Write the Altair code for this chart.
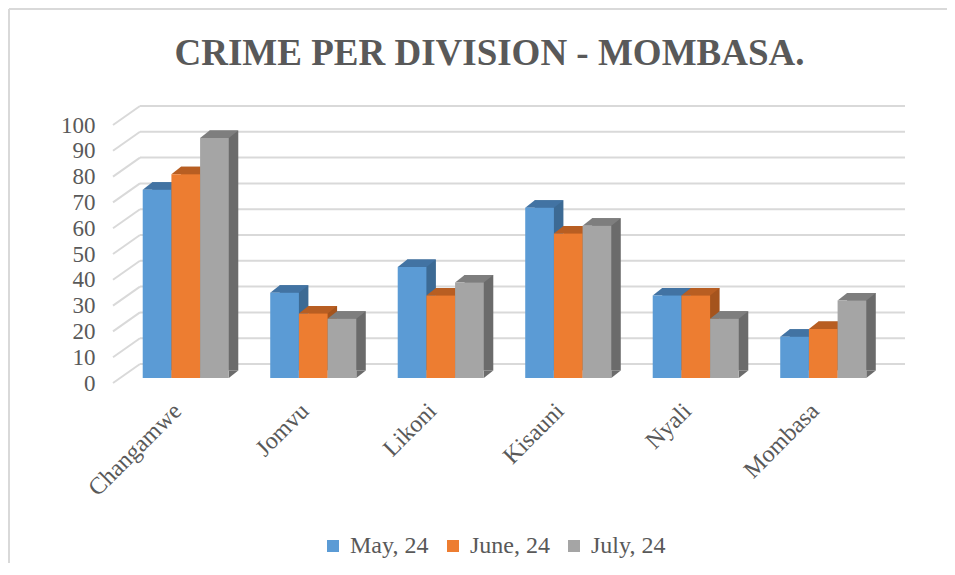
import altair as alt
import pandas as pd

# ---- data ----
divisions = ["Changamwe", "Jomvu", "Likoni", "Kisauni", "Nyali", "Mombasa"]
months = ["May, 24", "June, 24", "July, 24"]
may_values = [73, 33, 43, 66, 32, 16]
june_values = [79, 25, 32, 56, 32, 19]
july_values = [93, 23, 37, 59, 23, 30]
y_ticks = [0, 10, 20, 30, 40, 50, 60, 70, 80, 90, 100]
title_text = "CRIME PER DIVISION - MOMBASA."

# ---- styles ----
front_colors = ["#5B9BD5", "#ED7D31", "#A5A5A5"]
top_colors = ["#4273A3", "#B85E22", "#7E7E7E"]
side_colors = ["#3C6A94", "#A5541D", "#6B6B6B"]
grid_color = "#D9D9D9"
text_color = "#595959"
FONT = "Liberation Serif"

rows = []
for m, vals in zip(months, [may_values, june_values, july_values]):
    for d, v in zip(divisions, vals):
        rows.append({"division": d, "month": m, "value": v})
df = pd.DataFrame(rows)
ticks_df = pd.DataFrame({"tick": y_ticks})

W, H = 765, 258
pad_inner, pad_outer = 0.325, 0.1625
step = W / (len(divisions) - pad_inner + 2 * pad_outer)
band = step * (1 - pad_inner)
bar_w = band / len(months)
DX, DY = 9.5, 7.5
K = 20.0

def pt(x, y):
    return f"{x / K:.4f},{y / K:.4f}"

top_path = ("M" + pt(-bar_w / 2, 0) + " L" + pt(bar_w / 2, 0) + " L" + pt(bar_w / 2 + DX, -DY)
            + " L" + pt(-bar_w / 2 + DX, -DY) + " Z")
tri_path = ("M" + pt(bar_w / 2, 0) + " L" + pt(bar_w / 2, -DY) + " L" + pt(bar_w / 2 + DX, -DY) + " Z")
sym_size = (2 * K) ** 2

x_scale = alt.Scale(domain=divisions, paddingInner=pad_inner, paddingOuter=pad_outer)
xo_scale = alt.Scale(type="band", domain=months, paddingInner=0, paddingOuter=0)
xo_back_scale = alt.Scale(type="band", domain=months, paddingInner=0, paddingOuter=0,
                          range=[DX, DX + band])
y_scale = alt.Scale(domain=[0, 100], nice=False, zero=True)

x_axis = alt.Axis(title=None, labelAngle=-45, labelAlign="right", labelBaseline="middle",
                  domain=False, ticks=False, tickSize=0, grid=False, labelPadding=29,
                  labelOffset=-8, labelFont=FONT, labelFontSize=24, labelColor=text_color)
y_axis = alt.Axis(title=None, values=y_ticks, domain=False, ticks=False, tickSize=0, grid=False,
                  labelPadding=27, labelOffset=5, labelFont=FONT, labelFontSize=23,
                  labelColor=text_color)

X = alt.X("division:N", scale=x_scale, axis=x_axis, sort=divisions)
XO = alt.XOffset("month:N", scale=xo_scale, sort=months)
Y = alt.Y("value:Q", scale=y_scale, axis=y_axis)

one = alt.Data(values=[{"t": title_text}])

border_left = alt.Chart(one).mark_rule(color=grid_color, strokeWidth=2).encode(
    x=alt.value(-113), y=alt.value(-111), y2=alt.value(445))
border_top = alt.Chart(one).mark_rule(color=grid_color, strokeWidth=2).encode(
    x=alt.value(-113), x2=alt.value(826), y=alt.value(-111))

diag = alt.Chart(ticks_df).mark_rule(color=grid_color, strokeWidth=2, yOffset=5, y2Offset=-14).encode(
    y=alt.Y("tick:Q", scale=y_scale, axis=y_axis), y2="tick:Q",
    x=alt.value(-9), x2=alt.value(18))
grid = alt.Chart(ticks_df).mark_rule(color=grid_color, strokeWidth=2, yOffset=-14).encode(
    y=alt.Y("tick:Q", scale=y_scale, axis=y_axis),
    x=alt.value(18), x2=alt.value(783))

back = alt.Chart(df).mark_bar(strokeWidth=0, yOffset=-DY, y2Offset=-DY).encode(
    x=X, xOffset=alt.XOffset("month:N", scale=xo_back_scale, sort=months), y=Y,
    color=alt.Color("month:N", scale=alt.Scale(domain=months, range=side_colors), legend=None))
bottom_tri = alt.Chart(df).mark_point(shape=tri_path, filled=True, size=sym_size, opacity=1,
                                      strokeWidth=0).encode(
    x=X, xOffset=XO, y=alt.Y("zero:Q", scale=y_scale, axis=y_axis),
    color=alt.Color("month:N", scale=alt.Scale(domain=months, range=side_colors), legend=None)
).transform_calculate(zero="0")
top = alt.Chart(df).mark_point(shape=top_path, filled=True, size=sym_size, opacity=1,
                               strokeWidth=0).encode(
    x=X, xOffset=XO, y=Y,
    color=alt.Color("month:N", scale=alt.Scale(domain=months, range=top_colors), legend=None))
front = alt.Chart(df).mark_bar(strokeWidth=0).encode(
    x=X, xOffset=XO, y=Y,
    color=alt.Color("month:N", scale=alt.Scale(domain=months, range=front_colors), sort=months,
                    legend=alt.Legend(title=None, orient="none", legendX=199, legendY=414,
                                      direction="horizontal", symbolType="square",
                                      symbolSize=144, symbolStrokeWidth=0, labelFont=FONT,
                                      labelFontSize=24, labelColor=text_color,
                                      columnPadding=12, labelOffset=5, padding=0)))

title = alt.Chart(one).mark_text(font=FONT, fontSize=37, fontWeight="bold", color=text_color,
                                 align="center", baseline="alphabetic").encode(
    text="t:N", x=alt.value(367.5), y=alt.value(-55))

chart = alt.layer(border_left, border_top, diag, grid, back, bottom_tri, top, front, title).resolve_scale(
    color="independent", xOffset="independent"
).properties(
    width=W, height=H,
    autosize=alt.AutoSizeParams(type="none"),
    padding={"left": 114, "top": 112, "right": 60, "bottom": 185},
).configure_view(stroke=None, strokeWidth=0).configure_axis(
    labelFont=FONT, labelColor=text_color
).configure_legend(labelFont=FONT, labelColor=text_color).configure(
    background="white", style={"cell": {"stroke": "transparent", "strokeWidth": 0}}
)

chart.save("out.html", embed_options={"renderer": "svg", "actions": False})
